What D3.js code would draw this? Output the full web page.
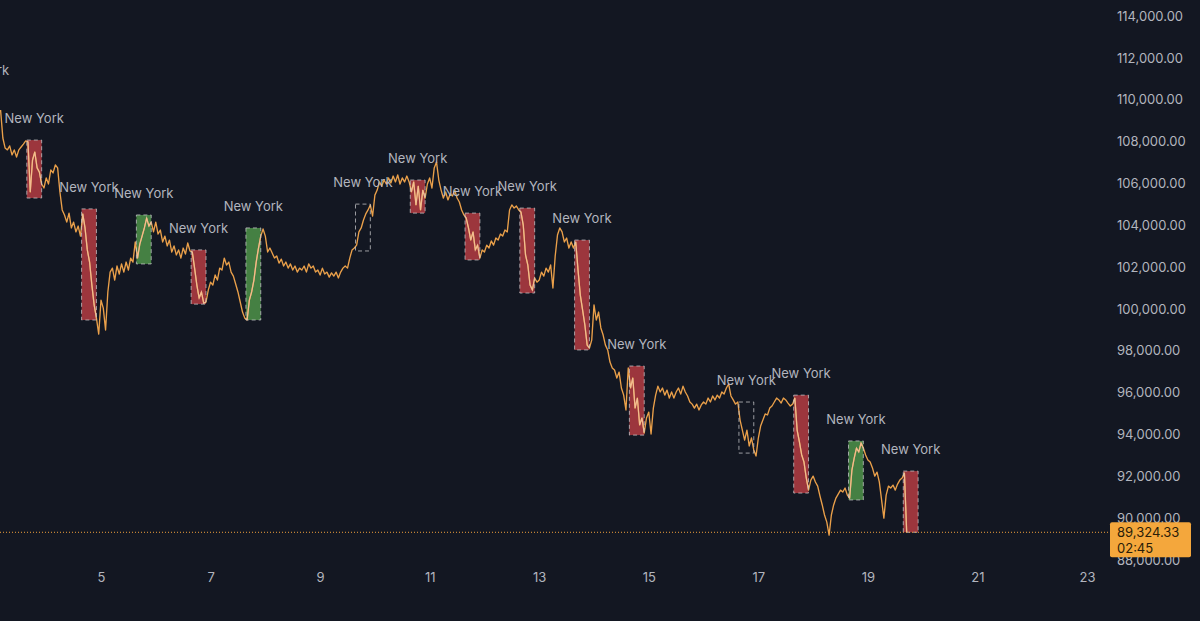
<!DOCTYPE html>
<html><head><meta charset="utf-8">
<script src="https://cdn.jsdelivr.net/npm/d3@7"></script>
<style>
html,body{margin:0;padding:0;background:#131722;}
svg{display:block;}
</style></head>
<body>
<svg id="chart" width="1200" height="621"></svg>
<script>
// ---- DATA (BTC/USD, hourly closes from Nov 3 04:00) ----
const seriesStart = Date.UTC(2025, 10, 3, 4);
const prices = [
109510,108170,107690,107600,107790,107360,107600,107260,107600,107740,
107880,108030,107980,105590,107120,107500,106740,106540,105970,105780,
106260,105970,106640,106500,106880,106740,105590,104730,104490,104150,
104580,103870,104150,103680,103960,103480,104540,103870,102820,102240,
101140,100190,99560,98800,100420,100040,98990,100810,101760,101950,
101380,102050,101670,102150,101760,102240,101860,102430,102240,103200,
102430,103100,103480,103870,104340,103960,104150,103680,104150,103580,
103770,103200,103480,103010,103290,102720,103010,102580,102820,102430,
102910,102620,103150,102770,102720,101950,101140,100520,100810,100280,
100330,100900,101280,101140,101620,101380,101950,101860,102430,102100,
102240,101760,101570,101190,100810,100330,99850,99560,99470,100420,
100810,101380,102240,102910,103480,103820,103480,102720,102910,102670,
102430,102530,102190,102380,102050,102240,101950,102150,101860,102050,
101760,101950,101860,102050,101760,102150,101950,102050,101760,101860,
101620,101950,101670,101760,101520,101720,101570,101760,101480,101760,
101950,102050,101950,102430,102820,102910,103050,103680,103870,104250,
104540,104730,104970,104440,105440,105680,106070,105870,106160,105970,
106260,106020,106350,106070,106400,105970,106260,106070,106350,106070,
105590,106070,104970,105870,104730,105680,105300,105970,106260,105780,
106740,107020,106160,105680,105300,105590,105210,105490,105400,105680,
105300,105110,104730,104490,104340,103870,103290,103680,102820,103050,
102430,102820,102720,103050,102910,103250,103050,103390,103290,103580,
103480,103770,103680,104730,104970,104820,104920,104730,104630,104010,
102580,102100,101140,100900,101480,101280,101380,101760,101570,101950,
101760,102100,101000,102530,103530,103870,103680,103200,103390,102910,
103200,102910,103200,101860,100660,99950,99230,98270,98130,98510,
100190,99470,99850,99090,98750,98270,98040,97460,97180,97080,
96700,96980,96220,95880,95170,97180,96220,96700,95260,95740,
94450,94790,94070,94790,95070,94020,95260,95880,96310,96030,
96220,95880,96120,95740,96030,95740,96030,96220,95930,96310,
96030,95840,95550,95450,95260,95450,95170,95410,95550,95450,
95740,95550,95840,95650,95880,95740,96030,95930,96220,96410,
95840,95650,95450,95550,94690,94210,93730,94210,93450,93830,
93260,92970,93830,94400,94690,94980,94930,95260,95360,95550,
95740,95650,95500,95740,95650,95500,95360,95450,95740,94210,
93640,93020,92680,91920,91340,91820,92010,91730,91530,91060,
90630,90150,89810,89190,90150,90630,90960,91150,91340,91250,
91440,91100,90960,92300,92870,93350,93160,93590,93350,93020,
92780,92680,92400,92010,92200,91730,90870,90000,91100,91530,
91440,91580,91340,91630,91820,91920,92160,89324.33
];
const lastPrice = 89324.33;
const countdown = "02:45";

// New York sessions (15:30–22:00 chart time)
const sessionDays = [2, 3, 4, 5, 6, 7, 9, 10, 11, 12, 13, 14, 16, 17, 18, 19];
const sessionHigh = [110370,108070,104780,104490,102820,103870,105010,106160,104580,104820,103290,97270,95550,95880,93690,92250];
const sessionLow  = [108500,105300,99470,102150,100230,99470,102770,104580,102340,100760,98040,93970,93110,91200,90870,89324.33];
const sessionType = ["down","down","down","up","down","up","flat","down","down","down","down","down","flat","down","up","down"];
const sessionLabel = "New York";

const priceTicks = [88000,90000,92000,94000,96000,98000,100000,102000,104000,106000,108000,110000,112000,114000];
const dayTicks = [5,7,9,11,13,15,17,19,21,23];

// ---- CHART ----
const W = 1200, H = 621;
const svg = d3.select("#chart");
const FONT = "Inter, 'Noto Sans', sans-serif";
const TXT = "#b2b5be";

const x = d3.scaleUtc()
  .domain([Date.UTC(2025,10,5), Date.UTC(2025,10,23)])
  .range([101, 1087]);
const y = d3.scaleLinear().domain([88000, 114000]).range([560, 16]);

const data = prices.map((p, i) => ({t: new Date(seriesStart + i * 3600e3), p}));

const plotW = 1108;
svg.append("defs").append("clipPath").attr("id","plotClip")
  .append("rect").attr("x",0).attr("y",0).attr("width",plotW).attr("height",H);

const sessions = sessionDays.map((d, i) => ({
  t0: new Date(Date.UTC(2025,10,d,15,30)),
  t1: new Date(Date.UTC(2025,10,d,22,0)),
  hi: sessionHigh[i], lo: sessionLow[i], type: sessionType[i]
}));

const plot = svg.append("g").attr("clip-path","url(#plotClip)");

const fillOf = {down: "#a83a40", up: "#4a8a46", flat: "none"};

// boxes
plot.selectAll("rect.box").data(sessions).enter().append("rect")
  .attr("class","box")
  .attr("x", d => x(d.t0))
  .attr("width", d => x(d.t1) - x(d.t0))
  .attr("y", d => y(d.hi))
  .attr("height", d => y(d.lo) - y(d.hi))
  .attr("fill", d => fillOf[d.type])
  .attr("fill-opacity", 0.92);

// price line
const line = d3.line().x(d => x(d.t)).y(d => y(d.p));
plot.append("path").datum(data)
  .attr("d", line)
  .attr("fill","none")
  .attr("stroke","#eaa04a")
  .attr("stroke-width",1.35)
  .attr("stroke-linejoin","round");

// lighter line inside session boxes
const bc = svg.select("defs").append("clipPath").attr("id","boxClip");
bc.selectAll("rect").data(sessions.filter(s => s.type !== "flat")).enter().append("rect")
  .attr("x", d => x(d.t0)).attr("width", d => x(d.t1) - x(d.t0))
  .attr("y", d => y(d.hi)).attr("height", d => y(d.lo) - y(d.hi));
plot.append("g").attr("clip-path","url(#boxClip)")
  .append("path").datum(data)
  .attr("d", line)
  .attr("fill","none")
  .attr("stroke","#f2c4a4")
  .attr("stroke-opacity",0.8)
  .attr("stroke-width",1.2);

// dashed box borders
plot.selectAll("rect.border").data(sessions).enter().append("rect")
  .attr("class","border")
  .attr("x", d => x(d.t0))
  .attr("width", d => x(d.t1) - x(d.t0))
  .attr("y", d => y(d.hi))
  .attr("height", d => y(d.lo) - y(d.hi))
  .attr("fill","none")
  .attr("stroke","#c9c9cc")
  .attr("stroke-opacity",0.75)
  .attr("stroke-width",1)
  .attr("stroke-dasharray","4,3");

// session labels
plot.selectAll("text.lab").data(sessions).enter().append("text")
  .attr("x", d => (x(d.t0) + x(d.t1)) / 2)
  .attr("y", d => y(d.hi) - 22)
  .attr("text-anchor","middle")
  .attr("dominant-baseline","central")
  .attr("font-family", FONT)
  .attr("font-size", 13)
  .attr("fill", TXT)
  .text(sessionLabel);

// last price dotted line
svg.append("line")
  .attr("x1",0).attr("x2",plotW)
  .attr("y1", y(lastPrice)).attr("y2", y(lastPrice))
  .attr("stroke","#f0a03c").attr("stroke-width",1)
  .attr("stroke-dasharray","1,2");

// right price axis
const yAxis = svg.append("g").attr("transform","translate(1117,0)")
  .call(d3.axisRight(y).tickValues(priceTicks).tickSize(0).tickPadding(0)
    .tickFormat(d => d3.format(",.2f")(d)));
yAxis.select(".domain").remove();
yAxis.selectAll("text").attr("font-family",FONT).attr("font-size",13).attr("fill",TXT);

// bottom time axis
const xAxis = svg.append("g").attr("transform","translate(0,573)")
  .call(d3.axisBottom(x).tickValues(dayTicks.map(d => new Date(Date.UTC(2025,10,d))))
    .tickSize(0).tickPadding(0).tickFormat(d3.utcFormat("%-d")));
xAxis.select(".domain").remove();
xAxis.selectAll("text").attr("font-family",FONT).attr("font-size",13).attr("fill",TXT);

// last price label
const ly = y(lastPrice);
const lab = svg.append("g");
lab.append("rect").attr("x",1110).attr("y",ly-10).attr("width",81).attr("height",35)
  .attr("rx",2).attr("fill","#f4a73c");
lab.append("text").attr("x",1117).attr("y",ly).attr("dominant-baseline","central")
  .attr("font-family",FONT).attr("font-size",13).attr("fill","#2b1d08")
  .text(d3.format(",.2f")(lastPrice));
lab.append("text").attr("x",1117).attr("y",ly+16).attr("dominant-baseline","central")
  .attr("font-family",FONT).attr("font-size",13).attr("fill","#2b1d08")
  .text(countdown);
</script>
</body></html>
